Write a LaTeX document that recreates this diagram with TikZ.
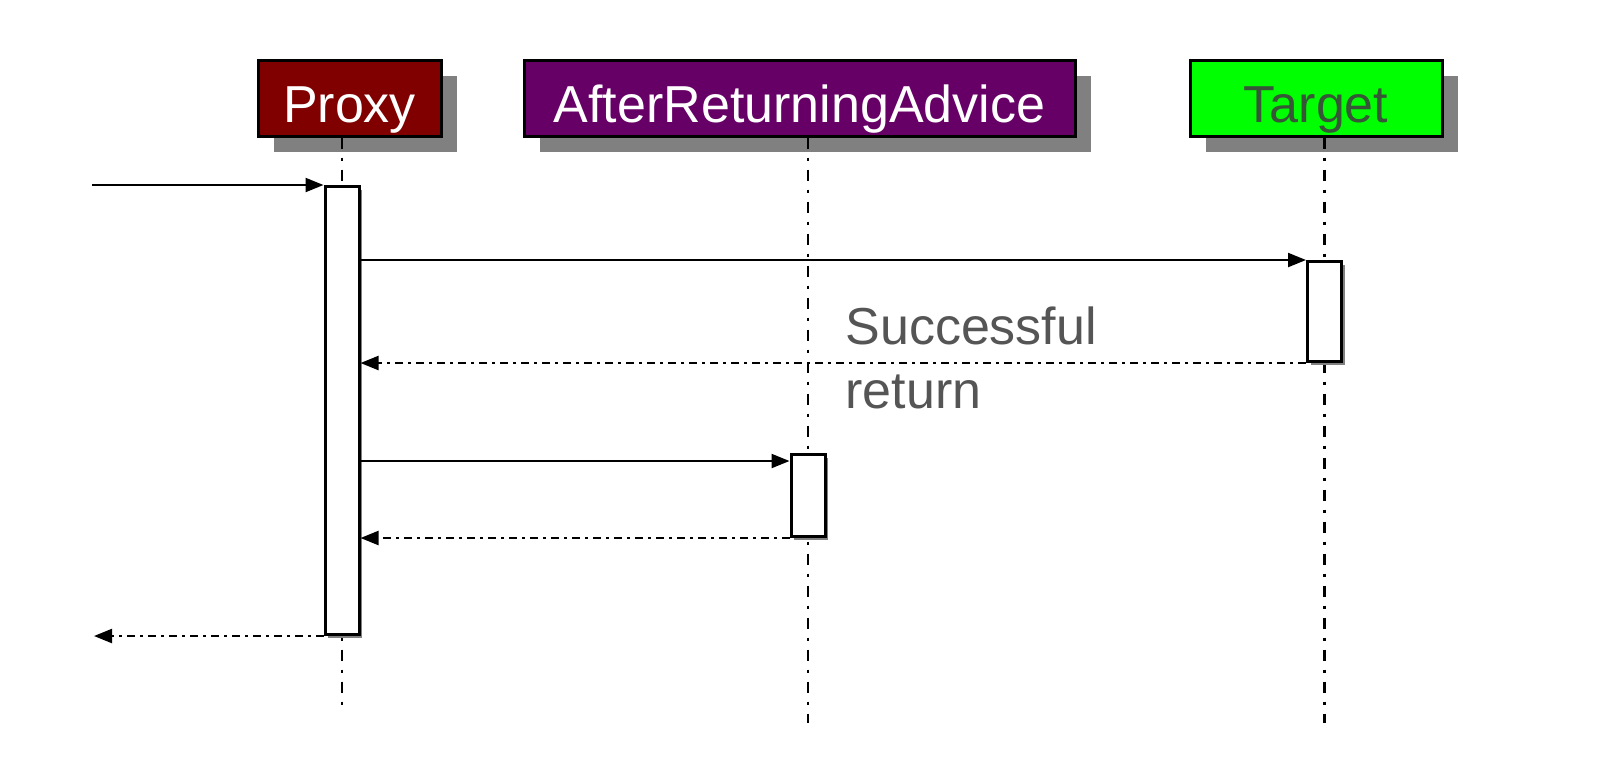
\documentclass[tikz,border=0pt]{standalone}
\usepackage{fontspec}
\setmainfont{Liberation Sans}
\usetikzlibrary{arrows.meta,shadows}
\definecolor{proxyred}{RGB}{128,0,0}
\definecolor{advicepurple}{RGB}{102,0,102}
\definecolor{targetgreen}{RGB}{0,255,0}
\definecolor{targettext}{RGB}{55,85,55}
\definecolor{shadowgray}{RGB}{128,128,128}
\definecolor{labelgray}{RGB}{85,85,85}

\begin{document}
\begin{tikzpicture}[x=0.5pt,y=-0.5pt,>={Triangle[length=9pt,width=7pt]},
    head/.style={draw=black,line width=1.5pt,minimum height=38pt,inner sep=0pt,text height=24pt,text depth=0pt,text=white,font=\fontsize{26}{30}\selectfont,drop shadow={shadow xshift=8pt,shadow yshift=-8pt,fill=shadowgray,opacity=1}},
    act/.style={draw=black,fill=white,line width=1.5pt,minimum width=17pt,inner sep=0pt,anchor=north,drop shadow={shadow xshift=1.5pt,shadow yshift=-1.5pt,fill=shadowgray,opacity=1}},
    life/.style={line width=1.4pt,dash pattern=on 5.5pt off 4.5pt on 1.5pt off 4.5pt},
    call/.style={->,line width=1.1pt},
    ret/.style={->,line width=1.1pt,dash pattern=on 4pt off 2.5pt on 1.5pt off 2.5pt}]
    \useasboundingbox (0,0) rectangle (1598,768);

    % participants
    \node[head,fill=proxyred,minimum width=91.5pt] (proxy) at (349.5,98) {Proxy};
    \node[head,fill=advicepurple,minimum width=275.5pt] (advice) at (799.5,98) {AfterReturningAdvice};
    \node[head,fill=targetgreen,text=targettext,minimum width=126pt] (target) at (1316,98) {Target};

    % lifelines
    \coordinate (proxyend) at (342,710);
    \coordinate (adviceend) at (808,723);
    \coordinate (targetend) at (1324.5,723);
    \draw[life] (proxy.south -| proxyend) -- (proxyend);
    \draw[life] (advice.south -| adviceend) -- (adviceend);
    \draw[life] (target.south -| targetend) -- (targetend);

    % activations
    \node[act,minimum height=224pt] (pact) at (342,185) {};
    \node[act,minimum height=50pt] (tact) at (1324.5,260) {};
    \node[act,minimum height=41pt] (aact) at (808,453) {};

    % messages
    \coordinate (in) at (92,185);
    \coordinate (out) at (94,635);
    \path ([yshift=-4pt]aact.north west) coordinate (acall);
    \draw[call] (in |- pact.north west) -- (pact.north west);
    \draw[call] (pact.east |- tact.north) -- (tact.north west);
    \draw[ret] (tact.south west) -- (pact.east |- tact.south);
    \draw[call] (pact.east |- acall) -- (acall);
    \draw[ret] (aact.south west) -- (pact.east |- aact.south);
    \draw[ret] (pact.south west) -- (out |- pact.south west);

    \node[font=\fontsize{26}{32}\selectfont,text=labelgray,align=left,anchor=north west,inner sep=0pt] (lbl) at (845,306) {Successful\\return};
\end{tikzpicture}
\end{document}
